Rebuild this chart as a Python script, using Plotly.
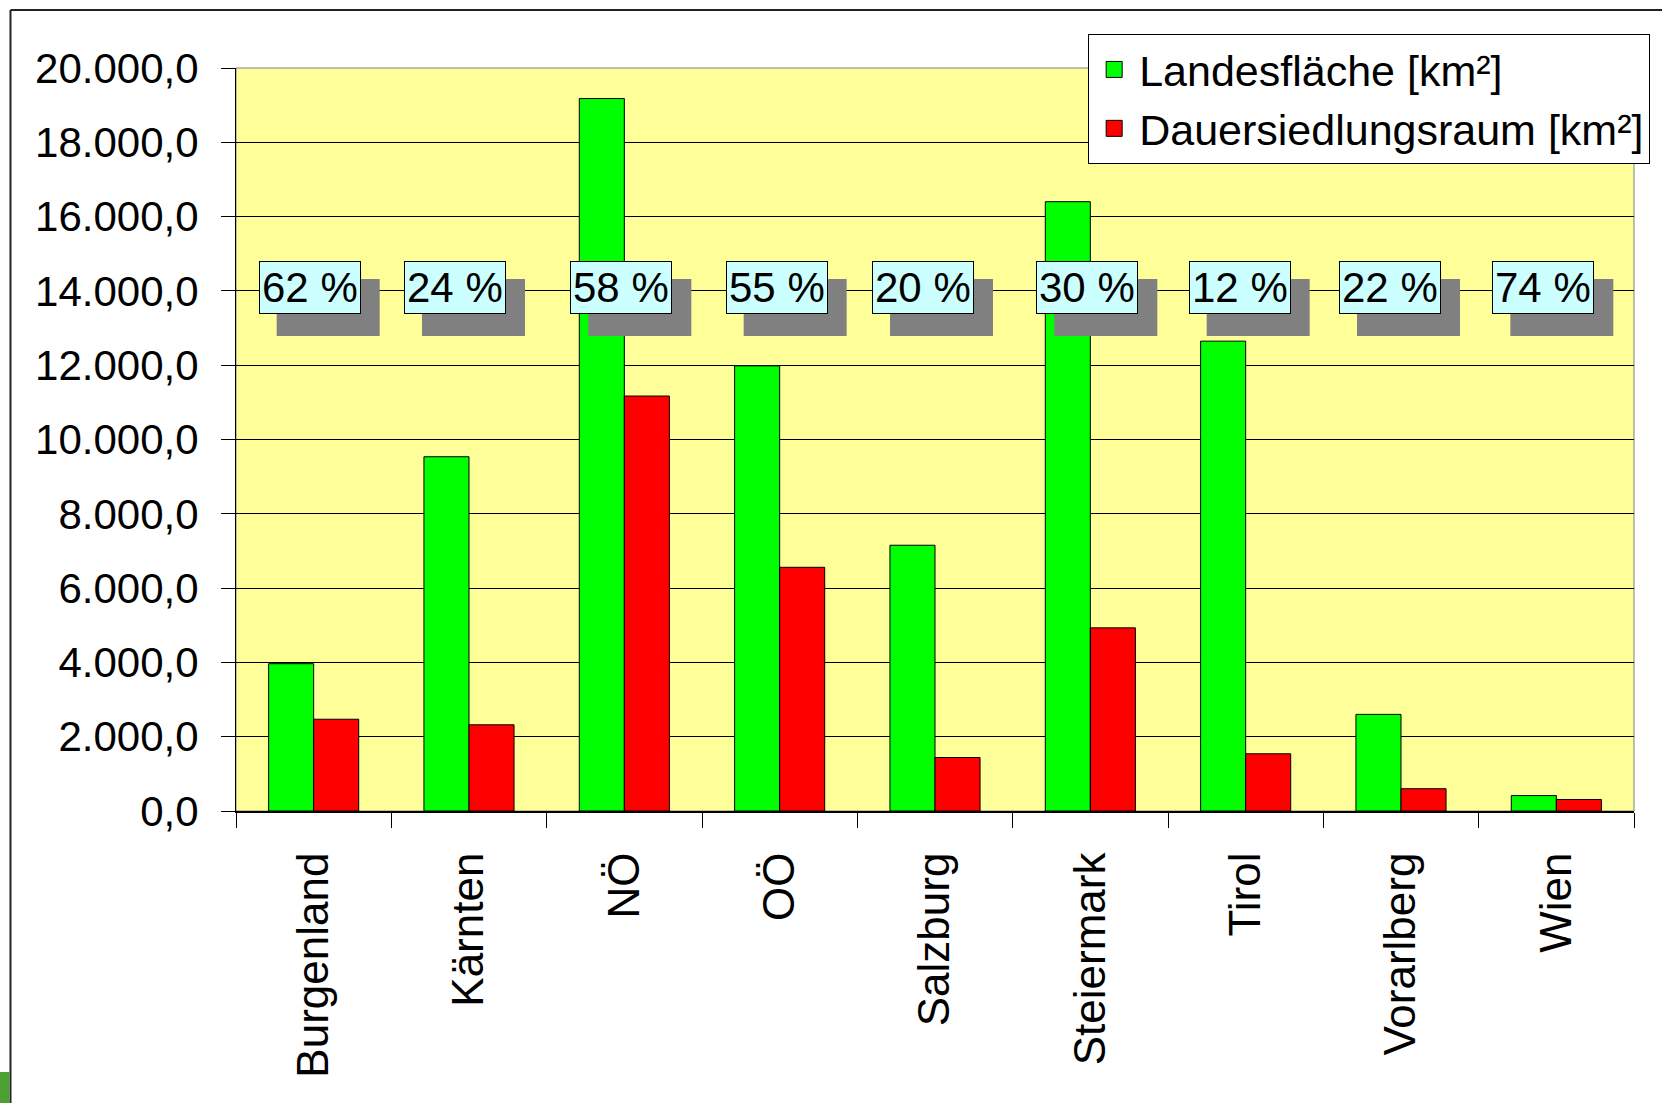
import plotly.graph_objects as go

categories = ["Burgenland", "Kärnten", "NÖ", "OÖ", "Salzburg", "Steiermark", "Tirol", "Vorarlberg", "Wien"]
landesflaeche = [3965, 9536, 19178, 11982, 7154, 16401, 12648, 2601, 415]
dauersiedlungsraum = [2470, 2320, 11170, 6560, 1440, 4930, 1540, 600, 310]
percent_labels = ["62 %", "24 %", "58 %", "55 %", "20 %", "30 %", "12 %", "22 %", "74 %"]
label_level = 14000
# horizontal pixel offsets of the percentage boxes (styling)
label_shift = [-4, -14, -3, -3, -12, -3, -6, -11, -13]

FONT = "Liberation Sans, Arial, sans-serif"
W, H = 1662, 1103
L, R, T, B = 236, 25, 68, 292
pw, ph = W - L - R, H - T - B

def px_x(p):
    return (p - L) / pw

def px_y(p):
    return (H - B - p) / ph

GREEN, RED = "#00FF00", "#FF0000"

fig = go.Figure()
fig.add_trace(go.Bar(x=categories, y=landesflaeche, name="Landesfläche [km²]", showlegend=False,
                     marker=dict(color=GREEN, line=dict(color="black", width=1))))
fig.add_trace(go.Bar(x=categories, y=dauersiedlungsraum, name="Dauersiedlungsraum [km²]", showlegend=False,
                     marker=dict(color=RED, line=dict(color="black", width=1))))
# legend entries with larger square symbols
for name, col in [("Landesfläche [km²]", GREEN), ("Dauersiedlungsraum [km²]", RED)]:
    fig.add_trace(go.Scatter(x=[categories[0]], y=[None], mode="markers", name=name, showlegend=True,
                             marker=dict(symbol="square", size=22, color=col, line=dict(color="black", width=1))))

annotations = []
shapes = []
for c, t, d in zip(categories, percent_labels, label_shift):
    shapes.append(dict(type="rect", xref="x", yref="y", xsizemode="pixel", ysizemode="pixel",
                       xanchor=c, yanchor=label_level, x0=d - 33, x1=d + 70, y0=-45, y1=12,
                       fillcolor="#808080", line=dict(width=0), layer="above"))
    annotations.append(dict(x=c, y=label_level, xref="x", yref="y", text=t, showarrow=False,
                            font=dict(family=FONT, size=42, color="black"),
                            bgcolor="#CCFFFF", bordercolor="black", borderwidth=1, borderpad=2,
                            xshift=d, yshift=3))

shapes += [
    # outer chart frame (top and left edges)
    dict(type="line", xref="paper", yref="paper", x0=px_x(10), x1=px_x(W + 5), y0=px_y(10), y1=px_y(10),
         line=dict(color="#222222", width=2)),
    dict(type="line", xref="paper", yref="paper", x0=px_x(10), x1=px_x(10), y0=px_y(10), y1=px_y(H + 5),
         line=dict(color="#222222", width=2)),
    # green corner decoration
    dict(type="rect", xref="paper", yref="paper", x0=px_x(-2), x1=px_x(9), y0=px_y(1072), y1=px_y(H + 5),
         fillcolor="#4CA032", line=dict(width=0)),
    # plot area frame
    dict(type="rect", xref="paper", yref="paper", x0=0, x1=1, y0=0, y1=1,
         line=dict(color="#808080", width=1), layer="below"),
]

fig.update_layout(
    width=W, height=H,
    margin=dict(l=L, r=R, t=T, b=B, pad=0),
    paper_bgcolor="white",
    plot_bgcolor="#FFFF99",
    separators=",.",
    barmode="group",
    bargap=0.42,
    bargroupgap=0,
    font=dict(family=FONT, size=42, color="black"),
    showlegend=True,
    legend=dict(x=px_x(1090), y=px_y(34), xanchor="left", yanchor="top",
                bgcolor="white", bordercolor="black", borderwidth=1,
                font=dict(family=FONT, size=43, color="black"),
                tracegroupgap=0, itemsizing="trace", itemwidth=40),
    annotations=annotations,
    shapes=shapes,
    xaxis=dict(type="category", range=[-0.5, len(categories) - 0.5], autorange=False,
               tickangle=-90, tickson="boundaries", ticks="outside", ticklen=15,
               tickcolor="black", tickwidth=1, showline=True, linecolor="black", linewidth=2,
               showgrid=False, ticklabelstandoff=22,
               tickfont=dict(family=FONT, size=44, color="black")),
    yaxis=dict(range=[0, 20000], dtick=2000, tickformat=",.1f", ticks="outside", ticklen=14,
               tickcolor="black", tickwidth=1, showline=True, linecolor="black", linewidth=1,
               showgrid=True, gridcolor="black", gridwidth=1, zeroline=False,
               ticklabelstandoff=14,
               tickfont=dict(family=FONT, size=42, color="black")),
)

fig.write_html("out.html", config={"displayModeBar": False},
               post_script="document.body.style.margin='0px';")
